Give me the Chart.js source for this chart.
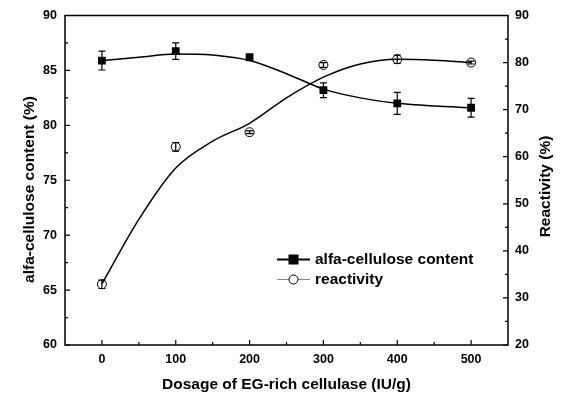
<!DOCTYPE html>
<html>
<head>
<meta charset="utf-8">
<script src="https://cdn.jsdelivr.net/npm/chart.js@4.4.0/dist/chart.umd.min.js"></script>
<style>
    html, body { margin: 0; padding: 0; background: #fff; }
    #wrap { width: 567px; height: 397px; }
</style>
</head>
<body>
<div id="wrap"><canvas id="chart"></canvas></div>
<script>
// measured points
const dosage = [0, 100, 200, 300, 400, 500];
const cellulose = [85.9, 86.75, 86.2, 83.2, 82.0, 81.6];
const celluloseErr = [0.86, 0.75, 0.2, 0.67, 1.0, 0.85];
const reactivity = [32.9, 62.1, 65.2, 79.5, 80.7, 80.0];
const reactivityErr = [0.9, 0.9, 0.3, 0.5, 0.9, 0.3];

// smooth fitted curves
const fitX = [0, 50, 100, 150, 200, 250, 300, 350, 400, 450, 500];
const celluloseFit = [85.9, 86.2, 86.5, 86.4, 85.9, 84.7, 83.3, 82.5, 82.0, 81.75, 81.6];
const reactivityFit = [33.0, 46.7, 57.6, 63.3, 67.1, 72.5, 76.9, 79.7, 80.7, 80.5, 80.0];

// tick labels
const xTicks = [0, 100, 200, 300, 400, 500];
const leftTicks = [60, 65, 70, 75, 80, 85, 90];
const rightTicks = [20, 30, 40, 50, 60, 70, 80, 90];

const FONT = '"Liberation Sans", Arial, sans-serif';

function pairs(xs, ys) {
    return xs.map((x, i) => ({ x: x, y: ys[i] }));
}

// error bars for the point datasets
const errorBars = {
    id: 'errorBars',
    afterDatasetsDraw(chart) {
        const ctx = chart.ctx;
        chart.data.datasets.forEach((ds, di) => {
            if (!ds.errors) return;
            const yScale = chart.scales[ds.yAxisID];
            const meta = chart.getDatasetMeta(di);
            ctx.save();
            ctx.strokeStyle = '#000';
            ctx.lineWidth = 1.2;
            meta.data.forEach((pt, i) => {
                const v = ds.data[i].y;
                const e = ds.errors[i];
                const y1 = yScale.getPixelForValue(v + e);
                const y2 = yScale.getPixelForValue(v - e);
                const x = pt.x;
                ctx.beginPath();
                ctx.moveTo(x, y1); ctx.lineTo(x, y2);
                ctx.moveTo(x - 3.5, y1); ctx.lineTo(x + 3.5, y1);
                ctx.moveTo(x - 3.5, y2); ctx.lineTo(x + 3.5, y2);
                ctx.stroke();
            });
            ctx.restore();
        });
    }
};

// frame, inward ticks, y titles and the legend
const frame = {
    id: 'frame',
    afterDraw(chart) {
        const ctx = chart.ctx;
        const a = chart.chartArea;
        const xs = chart.scales.x, yl = chart.scales.y, yr = chart.scales.y2;
        ctx.save();
        ctx.strokeStyle = '#000';
        ctx.lineWidth = 1.5;
        ctx.strokeRect(a.left, a.top, a.right - a.left, a.bottom - a.top);

        ctx.lineWidth = 1.2;
        ctx.beginPath();
        for (let v = 0; v <= 500; v += 50) {
            const px = xs.getPixelForValue(v);
            const len = v % 100 === 0 ? 5 : 3;
            ctx.moveTo(px, a.bottom); ctx.lineTo(px, a.bottom - len);
        }
        for (let v = 60; v <= 90; v += 2.5) {
            const py = yl.getPixelForValue(v);
            const len = v % 5 === 0 ? 5 : 3;
            ctx.moveTo(a.left, py); ctx.lineTo(a.left + len, py);
        }
        for (let v = 20; v <= 90; v += 5) {
            const py = yr.getPixelForValue(v);
            const len = v % 10 === 0 ? 5 : 3;
            ctx.moveTo(a.right, py); ctx.lineTo(a.right - len, py);
        }
        ctx.stroke();

        ctx.fillStyle = '#000';
        ctx.font = 'bold 15.5px ' + FONT;
        ctx.textAlign = 'center';
        ctx.textBaseline = 'middle';
        // y axis titles, both read bottom to top
        ctx.save();
        ctx.translate(30, a.top + 174);
        ctx.rotate(-Math.PI / 2);
        ctx.fillText('alfa-cellulose content (%)', 0, 0);
        ctx.restore();
        ctx.save();
        ctx.translate(a.right + 38, a.top + 171);
        ctx.rotate(-Math.PI / 2);
        ctx.fillText('Reactivity (%)', 0, 0);
        ctx.restore();

        // legend
        const lx = a.left + 212, ly = a.top + 244;
        ctx.lineWidth = 1.8;
        ctx.beginPath();
        ctx.moveTo(lx, ly); ctx.lineTo(lx + 33, ly);
        ctx.stroke();
        ctx.fillRect(lx + 16.5 - 5, ly - 5, 10, 10);

        ctx.strokeStyle = '#888';
        ctx.lineWidth = 1;
        ctx.beginPath();
        ctx.moveTo(lx, ly + 20); ctx.lineTo(lx + 33, ly + 20);
        ctx.stroke();
        ctx.fillStyle = '#fff';
        ctx.strokeStyle = '#000';
        ctx.beginPath();
        ctx.arc(lx + 16.5, ly + 20, 4.5, 0, Math.PI * 2);
        ctx.fill(); ctx.stroke();

        ctx.fillStyle = '#000';
        ctx.textAlign = 'left';
        ctx.fillText('alfa-cellulose content', lx + 38, ly);
        ctx.fillText('reactivity', lx + 38, ly + 20);
        ctx.restore();
    }
};

const tickFont = { family: FONT, size: 12.5, weight: 'bold' };
const titleFont = { family: FONT, size: 15.5, weight: 'bold' };

new Chart(document.getElementById('chart').getContext('2d'), {
    type: 'scatter',
    data: {
        datasets: [
            {
                data: pairs(fitX, celluloseFit),
                yAxisID: 'y',
                showLine: true,
                borderColor: '#000',
                borderWidth: 1.5,
                pointRadius: 0,
                cubicInterpolationMode: 'monotone'
            },
            {
                data: pairs(fitX, reactivityFit),
                yAxisID: 'y2',
                showLine: true,
                borderColor: '#000',
                borderWidth: 1.5,
                pointRadius: 0,
                cubicInterpolationMode: 'monotone'
            },
            {
                data: pairs(dosage, cellulose),
                errors: celluloseErr,
                yAxisID: 'y',
                pointStyle: 'rect',
                pointRadius: 5.5,
                backgroundColor: '#000',
                borderColor: '#000',
                borderWidth: 0
            },
            {
                data: pairs(dosage, reactivity),
                errors: reactivityErr,
                yAxisID: 'y2',
                pointStyle: 'circle',
                pointRadius: 4.5,
                backgroundColor: '#fff',
                borderColor: '#000',
                borderWidth: 1
            },
            {
                data: pairs(dosage, reactivity),
                yAxisID: 'y2',
                pointStyle: ['cross', 'cross', false, 'line', 'cross', false],
                pointRadius: 4.5,
                borderColor: '#000',
                borderWidth: 1
            }
        ]
    },
    options: {
        responsive: true,
        maintainAspectRatio: false,
        animation: false,
        layout: { padding: { top: 15, left: 0, right: 0, bottom: 0 } },
        plugins: {
            legend: { display: false },
            tooltip: { enabled: false }
        },
        scales: {
            x: {
                type: 'linear',
                min: -50,
                max: 550,
                afterBuildTicks: (s) => { s.ticks = xTicks.map(v => ({ value: v })); },
                afterFit: (s) => { s.height = 52; },
                grid: { display: false, drawTicks: false },
                border: { display: false },
                ticks: { color: '#000', font: tickFont, padding: 7 },
                title: {
                    display: true,
                    text: 'Dosage of EG-rich cellulase (IU/g)',
                    color: '#000',
                    font: titleFont,
                    padding: { top: 0, bottom: 3 }
                }
            },
            y: {
                position: 'left',
                min: 60,
                max: 90,
                afterBuildTicks: (s) => { s.ticks = leftTicks.map(v => ({ value: v })); },
                afterFit: (s) => { s.width = 65; },
                grid: { display: false, drawTicks: false },
                border: { display: false },
                ticks: { color: '#000', font: tickFont, padding: 8 }
            },
            y2: {
                position: 'right',
                min: 20,
                max: 90,
                afterBuildTicks: (s) => { s.ticks = rightTicks.map(v => ({ value: v })); },
                afterFit: (s) => { s.width = 59; },
                grid: { display: false, drawTicks: false },
                border: { display: false },
                ticks: { color: '#000', font: tickFont, padding: 7 }
            }
        }
    },
    plugins: [errorBars, frame]
});
</script>
</body>
</html>
